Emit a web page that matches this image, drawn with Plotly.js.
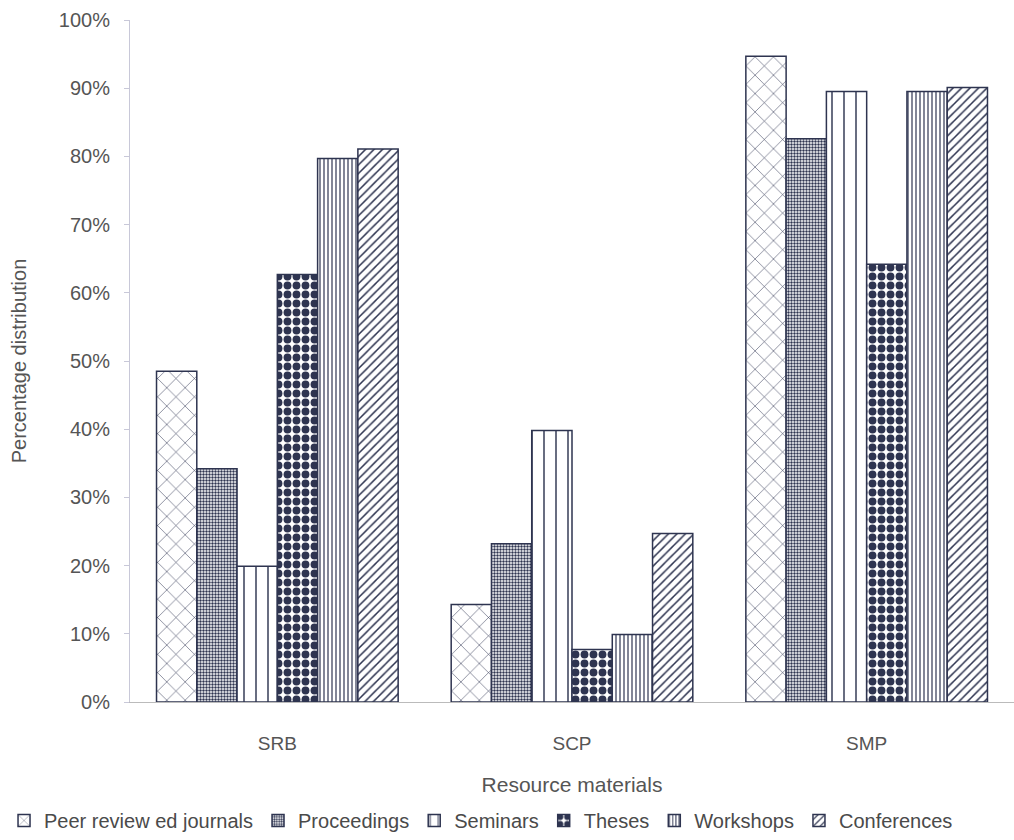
<!DOCTYPE html>
<html>
<head>
<meta charset="utf-8">
<script src="https://cdn.plot.ly/plotly-3.0.1.min.js"></script>
<style>html,body{margin:0;padding:0;background:#fff;}#chart{width:1014px;height:840px;}</style>
</head>
<body>
<div id="chart"></div>
<script>
const categories = ["SRB", "SCP", "SMP"];
const seriesNames = ["Peer review ed journals", "Proceedings", "Seminars", "Theses", "Workshops", "Conferences"];
const peerReviewed = [48.5, 14.3, 94.7];
const proceedings = [34.2, 23.2, 82.6];
const seminars = [19.9, 39.8, 89.5];
const theses = [62.7, 7.7, 64.2];
const workshops = [79.7, 9.9, 89.5];
const conferences = [81.1, 24.7, 90.1];
const yTickVals = [0, 10, 20, 30, 40, 50, 60, 70, 80, 90, 100];
const yTickText = ["0%", "10%", "20%", "30%", "40%", "50%", "60%", "70%", "80%", "90%", "100%"];

const ink = "#2e3450";
const patterns = [
  {shape: "x", size: 13, solidity: 0.08},
  {shape: ".", size: 3, solidity: 0.5},
  {shape: "|", size: 12, solidity: 0.12},
  {shape: ".", size: 9, solidity: 0.6},
  {shape: "|", size: 4, solidity: 0.3},
  {shape: "/", size: 6, solidity: 0.25}
];
const values = [peerReviewed, proceedings, seminars, theses, workshops, conferences];

const data = values.map((v, i) => ({
  type: "bar",
  name: seriesNames[i],
  x: categories,
  y: v,
  marker: {
    color: "#ffffff",
    line: {color: ink, width: 1.5},
    pattern: {shape: patterns[i].shape, size: patterns[i].size, solidity: patterns[i].solidity, fgcolor: ink, bgcolor: "#ffffff", fillmode: "replace"}
  }
}));

const layout = {
  width: 1014, height: 840,
  margin: {l: 130, r: 0, t: 20, b: 136},
  paper_bgcolor: "#ffffff", plot_bgcolor: "#ffffff",
  font: {family: "Liberation Sans, Arial, sans-serif", color: "#555555", size: 20},
  barmode: "group",
  bargap: 0.18,
  bargroupgap: 0,
  showlegend: true,
  legend: {orientation: "h", x: -0.1425, xanchor: "left", y: -0.174, yanchor: "middle", font: {size: 20, color: "#4a4a4a"}, itemwidth: 30, tracegroupgap: 0, bgcolor: "rgba(0,0,0,0)"},
  xaxis: {
    automargin: false,
    title: {text: "Resource materials", font: {size: 21, color: "#555555"}, standoff: 24},
    showline: true, linecolor: "#bbbbbb", linewidth: 1,
    ticks: "", showgrid: false, zeroline: false,
    ticklabelstandoff: 24,
    tickfont: {size: 19, color: "#555555"}
  },
  yaxis: {
    automargin: false,
    title: {text: "Percentage distribution", font: {size: 20, color: "#555555"}, standoff: 26},
    range: [0, 100], tickvals: yTickVals, ticktext: yTickText,
    showline: true, linecolor: "#c8c8d8", linewidth: 1,
    ticks: "outside", ticklen: 5, tickcolor: "#c8c8d8",
    ticklabelstandoff: 10,
    showgrid: false, zeroline: false,
    tickfont: {size: 20, color: "#555555"}
  }
};

Plotly.newPlot("chart", data, layout, {staticPlot: true});
</script>
</body>
</html>
